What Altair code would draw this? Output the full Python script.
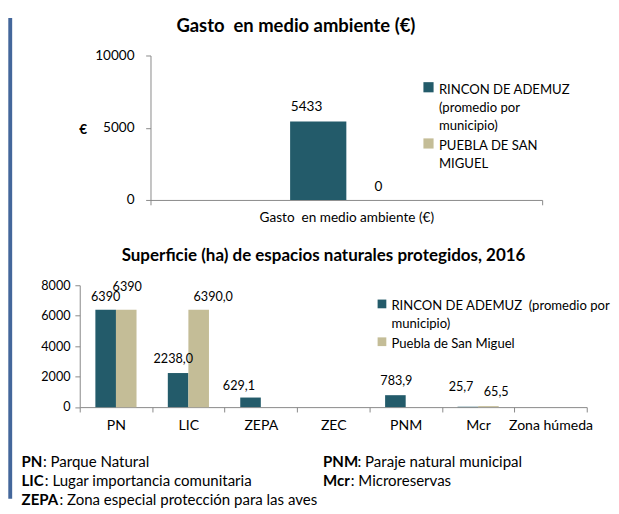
import altair as alt
import pandas as pd

FONT = "Lato"
DARK = "#235B6A"
LIGHT = "#C4BD97"
AXIS = "#868686"
BORDER = "#44679B"

# ---------------- data ----------------
top_title = "Gasto\u00a0 en medio ambiente (€)"
top_category = "Gasto\u00a0 en medio ambiente (€)"
top_series = ["RINCON DE ADEMUZ (promedio por municipio)", "PUEBLA DE SAN MIGUEL"]
top_values = [5433, 0]
top_labels = ["5433", "0"]

bot_title = "Superficie (ha) de espacios naturales protegidos, 2016"
bot_categories = ["PN", "LIC", "ZEPA", "ZEC", "PNM", "Mcr", "Zona húmeda"]
bot_series = ["RINCON DE ADEMUZ  (promedio por municipio)", "Puebla de San Miguel"]
rincon_values = [6390, 2238.0, 629.1, 0, 783.9, 25.7, 0]
puebla_values = [6390, 6390.0, 0, 0, 0, 65.5, 0]
rincon_labels = ["6390", "2238,0", "629,1", "", "783,9", "25,7", ""]
puebla_labels = ["6390", "6390,0", "", "", "", "65,5", ""]

notes_abbr = ["PN", "LIC", "ZEPA", "PNM", "Mcr"]
notes_text = [": Parque Natural", ": Lugar importancia comunitaria",
              ": Zona especial protección para las aves",
              ": Paraje natural municipal", ": Microreservas"]
notes_col = [0, 0, 0, 1, 1]
notes_row = [0, 1, 2, 0, 1]

# ---------------- tables ----------------
top_df = pd.DataFrame({"cat": [top_category] * 2, "serie": top_series,
                       "valor": top_values, "etiqueta": top_labels})
bot_df = pd.DataFrame({
    "cat": bot_categories * 2,
    "serie": [bot_series[0]] * 7 + [bot_series[1]] * 7,
    "valor": rincon_values + puebla_values,
    "etiqueta": rincon_labels + puebla_labels,
})
notes_df = pd.DataFrame({"abbr": notes_abbr, "texto": notes_text,
                         "col": notes_col, "fila": notes_row})
one = pd.DataFrame({"k": [0]})

W = 523

# ---------------- top panel ----------------
tx = alt.X("cat:N", scale=alt.Scale(range=[73, 477], paddingInner=0, paddingOuter=0),
           axis=alt.Axis(title=None, labelAngle=0, tickBand="extent", tickSize=5,
                         labelPadding=6, domainColor=AXIS, tickColor=AXIS, labelLimit=400,
                         labelFontSize=14, labelColor="black"))
txo = alt.XOffset("serie:N", scale=alt.Scale(domain=top_series, range=[144, 260],
                                             paddingOuter=0, paddingInner=0))
ty = alt.Y("valor:Q", scale=alt.Scale(domain=[0, 10000]),
           axis=alt.Axis(values=[0, 5000, 10000], format="d", offset=-73, tickSize=5,
                         labelPadding=12, grid=False, domainColor=AXIS, tickColor=AXIS,
                         labelFontSize=14, labelColor="black", title="€", titleAngle=0,
                         titleX=-70, titleY=76, titleAlign="center", titleBaseline="middle",
                         titleFontWeight="bold", titleFontSize=14, titleColor="black"))
tcolor = alt.Color("serie:N", scale=alt.Scale(domain=top_series, range=[DARK, LIGHT]),
                   legend=alt.Legend(title=None, orient="none", legendX=353, legendY=22,
                                     symbolType="M-1,-0.24H1V1.76H-1Z", symbolSize=110,
                                     symbolStrokeWidth=0,
                                     labelFontSize=13.5, labelColor="black", labelLimit=300,
                                     rowPadding=-2, labelBaseline="top", labelOffset=4,
                                     labelExpr="datum.value == 'PUEBLA DE SAN MIGUEL' ? ['PUEBLA DE SAN', 'MIGUEL'] : ['RINCON DE ADEMUZ', '(promedio por', 'municipio)']"))

base_top = alt.Chart(top_df).encode(x=tx, xOffset=txo, y=ty)
top_layers = [base_top.mark_bar().encode(color=tcolor)]
top_nudge = {top_series[0]: (-12, -15), top_series[1]: (4, -13)}
for s, (dx, dy) in top_nudge.items():
    top_layers.append(
        base_top.transform_filter(alt.datum.serie == s)
        .mark_text(dx=dx, dy=dy, fontSize=14, color="black", baseline="middle")
        .encode(text="etiqueta:N"))
top_layers.append(
    alt.Chart(one).mark_text(text=top_title, fontSize=19, fontWeight="bold", align="center",
                             baseline="alphabetic", color="black")
    .encode(x=alt.value(223), y=alt.value(-24.7)))

top = alt.layer(*top_layers).properties(width=W, height=149)

# ---------------- bottom panel ----------------
bx = alt.X("cat:N", sort=bot_categories, scale=alt.Scale(paddingInner=0, paddingOuter=0),
           axis=alt.Axis(title=None, labelAngle=0, tickBand="extent", tickSize=5,
                         labelPadding=7, domainColor=AXIS, tickColor=AXIS,
                         labelFontSize=14.5, labelColor="black"))
bxo = alt.XOffset("serie:N", scale=alt.Scale(domain=bot_series, paddingOuter=0.76, paddingInner=0))
by = alt.Y("valor:Q", scale=alt.Scale(domain=[0, 8000]),
           axis=alt.Axis(values=[0, 2000, 4000, 6000, 8000], format="d", tickSize=5,
                         labelPadding=5, grid=False, domainColor=AXIS, tickColor=AXIS,
                         labelFontSize=13, labelColor="black", title=None))
bcolor = alt.Color("serie:N", scale=alt.Scale(domain=bot_series, range=[DARK, LIGHT]),
                   legend=alt.Legend(title=None, orient="none", legendX=305, legendY=8,
                                     symbolType="M-1,0H1V2H-1Z", symbolSize=81,
                                     symbolStrokeWidth=0,
                                     labelFontSize=13.5, labelColor="black", labelLimit=300,
                                     rowPadding=-3, labelBaseline="top", labelOffset=3,
                                     labelExpr="datum.value == 'Puebla de San Miguel' ? 'Puebla de San Miguel' : ['RINCON DE ADEMUZ \u00a0(promedio por', 'municipio)']"))

base_bot = alt.Chart(bot_df).encode(x=bx, xOffset=bxo, y=by)
bot_layers = [base_bot.mark_bar().encode(color=bcolor)]
bot_nudge = {
    (bot_series[0], "PN"): (0, -13), (bot_series[0], "LIC"): (-5, -14),
    (bot_series[0], "ZEPA"): (-12, -12), (bot_series[0], "PNM"): (1, -15),
    (bot_series[0], "Mcr"): (-7, -20),
    (bot_series[1], "PN"): (1, -23), (bot_series[1], "LIC"): (15, -13),
    (bot_series[1], "Mcr"): (8, -14),
}
for (s, c), (dx, dy) in bot_nudge.items():
    bot_layers.append(
        base_bot.transform_filter((alt.datum.serie == s) & (alt.datum.cat == c))
        .mark_text(dx=dx, dy=dy, fontSize=13, color="black", baseline="middle")
        .encode(text="etiqueta:N"))
bot_layers.append(
    alt.Chart(one).mark_text(text=bot_title, fontSize=17.5, fontWeight="bold", align="center",
                             baseline="alphabetic", color="black")
    .encode(x=alt.value(251.5), y=alt.value(-25.3)))

bottom = alt.layer(*bot_layers).properties(width=W, height=125.7)

# ---------------- notes panel ----------------
nx = alt.X("col:Q", scale=alt.Scale(domain=[0, 1], range=[-60, 251]), axis=None)
ny = alt.Y("fila:Q", scale=alt.Scale(domain=[0, 2], range=[-31.7, 7.3]), axis=None)
base_notes = alt.Chart(notes_df).encode(x=nx, y=ny)
NOTE_FS = 15.5
note_layers = [base_notes.mark_text(align="left", baseline="middle", fontSize=NOTE_FS,
                                    fontWeight="bold", color="black").encode(text="abbr:N")]
abbr_w = {"PN": 22, "LIC": 24, "ZEPA": 39, "PNM": 35.5, "Mcr": 28.5}
for a in notes_abbr:
    note_layers.append(
        base_notes.transform_filter(alt.datum.abbr == a)
        .mark_text(align="left", baseline="middle", fontSize=NOTE_FS, dx=abbr_w[a], color="black")
        .encode(text="texto:N"))
note_layers.append(
    alt.Chart(one).mark_rule(strokeWidth=4, color=BORDER)
    .encode(x=alt.value(-71.7), y=alt.value(-489.7), y2=alt.value(6.3)))
notes = alt.layer(*note_layers).properties(width=W, height=1)

chart = alt.vconcat(top, bottom, notes, spacing=88, bounds="flush").resolve_scale(
    color="independent", x="independent", y="independent", xOffset="independent"
).properties(padding=0).configure(
    font=FONT, style={"guide-label": {"lineHeight": 18.5}}
).configure_view(stroke=None)

chart.save("out.html", embed_options={"renderer": "svg", "actions": False})
